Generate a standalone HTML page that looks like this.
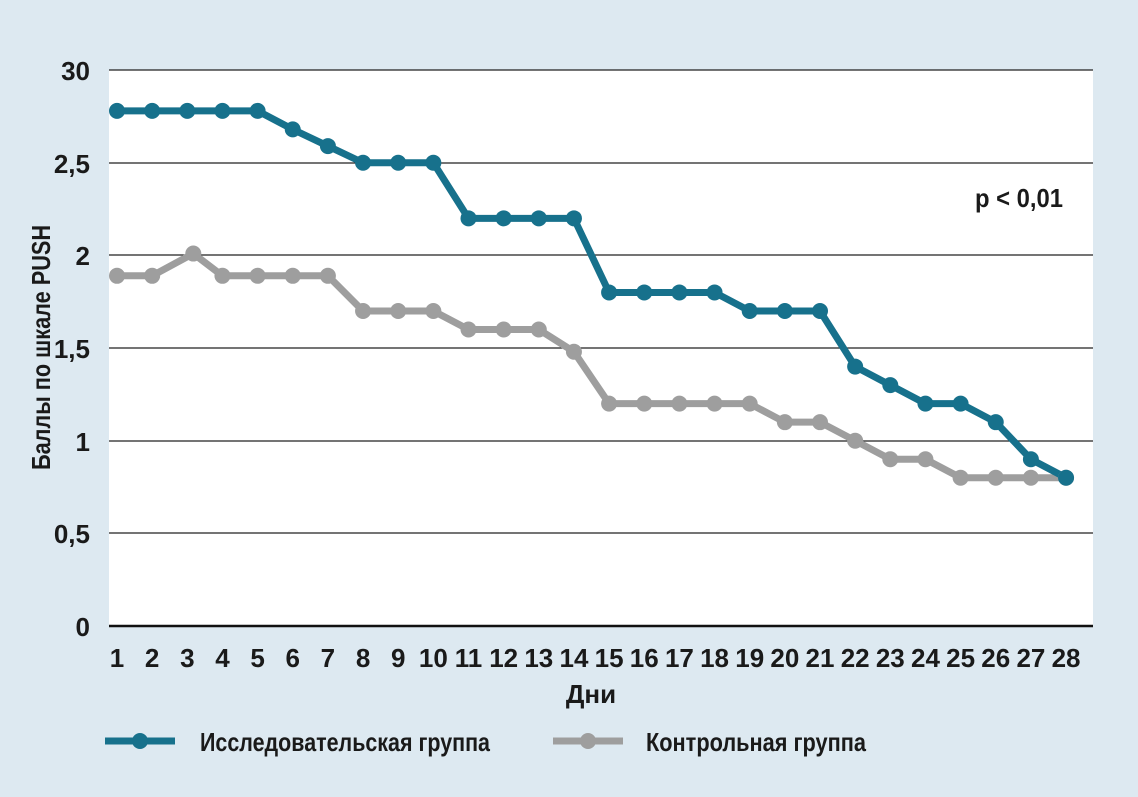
<!DOCTYPE html>
<html><head><meta charset="utf-8"><style>
body{margin:0;background:#dde9f1;}
text{font-family:"Liberation Sans Narrow","Liberation Sans",sans-serif;fill:#1a1a1a;}
</style></head><body>
<svg width="1138" height="792" xmlns="http://www.w3.org/2000/svg">
<rect width="1138" height="792" fill="#dde9f1"/>
<rect x="109" y="70" width="984" height="556" fill="#fff"/>
<g stroke="#222" stroke-width="1.3">
<line x1="109" x2="1093" y1="70" y2="70"/>
<line x1="109" x2="1093" y1="163" y2="163"/>
<line x1="109" x2="1093" y1="255" y2="255"/>
<line x1="109" x2="1093" y1="348" y2="348"/>
<line x1="109" x2="1093" y1="441" y2="441"/>
<line x1="109" x2="1093" y1="533" y2="533"/>
</g>
<line x1="109" x2="1093" y1="626" y2="626" stroke="#111" stroke-width="2.5"/>
<g font-size="26" text-anchor="end" font-weight="bold">
<text x="90" y="80">30</text><text x="90" y="173">2,5</text><text x="90" y="265">2</text>
<text x="90" y="358">1,5</text><text x="90" y="451">1</text><text x="90" y="543">0,5</text><text x="90" y="636">0</text>
</g>
<text x="975" y="207" font-size="26" font-weight="bold" textLength="88" lengthAdjust="spacingAndGlyphs">p &lt; 0,01</text>
<text transform="translate(50,348) rotate(-90)" x="-122" font-size="26" font-weight="bold" textLength="245" lengthAdjust="spacingAndGlyphs">Баллы по шкале PUSH</text>
<text x="591" y="703" font-size="26" text-anchor="middle" font-weight="bold">Дни</text>
<g id="xl" font-size="26" text-anchor="middle" font-weight="bold"></g>
<polyline id="g" fill="none" stroke="#9e9e9e" stroke-width="7" stroke-linejoin="round"/>
<polyline id="t" fill="none" stroke="#17718c" stroke-width="7" stroke-linejoin="round"/>
<g id="gd" fill="#9e9e9e"></g>
<g id="td" fill="#17718c"></g>
<line x1="105" x2="175" y1="741" y2="741" stroke="#17718c" stroke-width="7"/>
<circle cx="140" cy="741" r="8" fill="#17718c"/>
<text x="200" y="751" font-size="26" font-weight="bold" textLength="290" lengthAdjust="spacingAndGlyphs">Исследовательская группа</text>
<line x1="553" x2="623" y1="741" y2="741" stroke="#9e9e9e" stroke-width="7"/>
<circle cx="588" cy="741" r="8" fill="#9e9e9e"/>
<text x="646" y="751" font-size="26" font-weight="bold" textLength="220" lengthAdjust="spacingAndGlyphs">Контрольная группа</text>
</svg>
<script>
var T=[2.78,2.78,2.78,2.78,2.78,2.68,2.59,2.5,2.5,2.5,2.2,2.2,2.2,2.2,1.8,1.8,1.8,1.8,1.7,1.7,1.7,1.4,1.3,1.2,1.2,1.1,0.9,0.8];
var G=[1.89,1.89,2.01,1.89,1.89,1.89,1.89,1.7,1.7,1.7,1.6,1.6,1.6,1.48,1.2,1.2,1.2,1.2,1.2,1.1,1.1,1.0,0.9,0.9,0.8,0.8,0.8,0.8];
var ns="http://www.w3.org/2000/svg";
function X(i){return 117+i*35.15;}function Y(v){return 626-v*185.3;}
function draw(d,pl,gr,dx){var p=[];d.forEach(function(v,i){var x=X(i)+(dx&&i==2?6:0);p.push(x+","+Y(v));var c=document.createElementNS(ns,"circle");c.setAttribute("cx",x);c.setAttribute("cy",Y(v));c.setAttribute("r",8);document.getElementById(gr).appendChild(c);});document.getElementById(pl).setAttribute("points",p.join(" "));}
draw(G,"g","gd",1);draw(T,"t","td",0);
var xl=document.getElementById("xl");
for(var i=0;i<28;i++){var t=document.createElementNS(ns,"text");t.setAttribute("x",X(i));t.setAttribute("y",667);t.textContent=i+1;xl.appendChild(t);}
</script>
</body></html>
